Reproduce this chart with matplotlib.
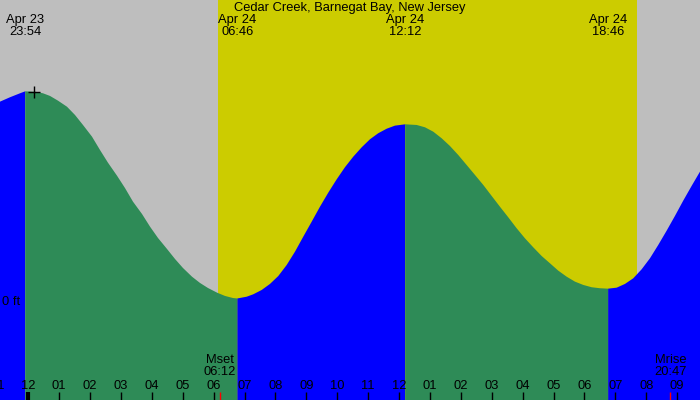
import matplotlib
matplotlib.use("Agg")
import matplotlib.pyplot as plt
import matplotlib.transforms as mtransforms

plt.rcParams['font.family'] = ['Liberation Sans', 'DejaVu Sans']

title = "Cedar Creek, Barnegat Bay, New Jersey"

# hours relative to midnight Apr 24 ; heights in ft
curve_hours = [-0.916, -0.592, -0.269, -0.10, 0.282, 0.476, 0.702, 0.961, 1.252, 1.511,
               1.770, 2.061, 2.320, 2.579, 2.871, 3.129, 3.388, 3.680, 3.939, 4.197,
               4.489, 4.748, 5.006, 5.298, 5.557, 5.816, 6.107, 6.366, 6.625, 6.767,
               7.068, 7.282, 7.553, 7.822, 8.091, 8.362, 8.631, 8.900, 9.172, 9.440,
               9.709, 9.981, 10.249, 10.518, 10.790, 11.058, 11.327, 11.599, 11.867, 12.20,
               12.570, 12.838, 13.107, 13.379, 13.647, 13.916, 14.188, 14.456, 14.725, 14.997,
               15.265, 15.534, 15.806, 16.074, 16.343, 16.615, 16.883, 17.152, 17.424, 17.693,
               17.961, 18.233, 18.501, 18.767,
               19.042, 19.311, 19.579, 19.851, 20.120, 20.388, 20.660, 20.929, 21.197, 21.469,
               21.74]
curve_ft = [1.821, 1.861, 1.897, 1.915, 1.909, 1.897, 1.873, 1.830, 1.775, 1.700,
            1.609, 1.503, 1.382, 1.266, 1.148, 1.036, 0.912, 0.800, 0.685, 0.582,
            0.482, 0.391, 0.309, 0.230, 0.173, 0.127, 0.085, 0.055, 0.036, 0.032,
            0.048, 0.070, 0.109, 0.164, 0.236, 0.336, 0.457, 0.594, 0.730, 0.866,
            0.994, 1.115, 1.225, 1.321, 1.406, 1.479, 1.534, 1.575, 1.603, 1.615,
            1.609, 1.588, 1.548, 1.488, 1.418, 1.336, 1.245, 1.155, 1.064, 0.964,
            0.866, 0.770, 0.670, 0.579, 0.497, 0.418, 0.352, 0.285, 0.230, 0.185,
            0.155, 0.134, 0.125, 0.121,
            0.130, 0.164, 0.215, 0.297, 0.397, 0.518, 0.648, 0.782, 0.921, 1.055,
            1.185]

# tide extremes
extreme_hours = [-0.10, 6.767, 12.20, 18.767]
extreme_dates = ["Apr 23", "Apr 24", "Apr 24", "Apr 24"]
extreme_times = ["23:54", "06:46", "12:12", "18:46"]

sunrise_h = 6.14
sunset_h = 19.70

moon_hours = [6.20, 20.78]
moon_labels = ["Mset\n06:12", "Mrise\n20:47"]

tick_hours = list(range(-1, 22))
tick_labels = ["11", "12", "01", "02", "03", "04", "05", "06", "07", "08", "09", "10",
               "11", "12", "01", "02", "03", "04", "05", "06", "07", "08", "09"]

marker_h, marker_ft = 0.18, 1.91

GRAY = "#bebebe"
YELLOW = "#cccc00"
GREEN = "#2e8b57"
BLUE = "#0000ff"

FS = 9.3

fig = plt.figure(figsize=(7, 4), dpi=100)
ax = fig.add_axes([0, 0, 1, 1])
ax.set_xlim(-0.916, 21.74)
ax.set_ylim(-0.891, 2.745)
ax.set_facecolor(GRAY)
ax.axis('off')
fig.patch.set_facecolor(GRAY)

ax.axvspan(sunrise_h, sunset_h, color=YELLOW, zorder=1, lw=0)

# split curve into rising / falling segments at the extremes
idx = [0] + [curve_hours.index(h) for h in extreme_hours] + [len(curve_hours) - 1]
idx = sorted(set(idx))
for k in range(len(idx) - 1):
    a, b = idx[k], idx[k + 1]
    xs = curve_hours[a:b + 1]
    ys = curve_ft[a:b + 1]
    rising = ys[-1] > ys[0]
    ax.fill_between(xs, -5, ys, color=BLUE if rising else GREEN, lw=0, zorder=2)

trans = mtransforms.blended_transform_factory(ax.transData, ax.transAxes)

# hour ticks
for h, lab in zip(tick_hours, tick_labels):
    lw = 3 if h == 0 else 1
    ax.plot([h, h], [0, 0.02], color='black', lw=lw, transform=trans, zorder=4,
            solid_capstyle='butt')
    ax.text(h, 0.035, lab, transform=trans, ha='center', va='center', fontsize=FS, zorder=5)

for h, lab in zip(moon_hours, moon_labels):
    ax.plot([h, h], [0, 0.02], color='red', lw=1, transform=trans, zorder=4,
            solid_capstyle='butt')
    ax.text(h, 0.085, lab, transform=trans, ha='center', va='center', fontsize=FS,
            linespacing=0.95, zorder=5)

for h, d, t in zip(extreme_hours, extreme_dates, extreme_times):
    ax.text(h, 1 - 26 / 400, d + "\n" + t, transform=trans, ha='center', va='center',
            fontsize=FS, linespacing=0.95, zorder=5)

ax.text(0.5, 1 - 8 / 400, title, transform=ax.transAxes, ha='center', va='center',
        fontsize=FS, zorder=5)

ax.text(2 / 700, 0, "0 ft", transform=mtransforms.blended_transform_factory(ax.transAxes, ax.transData),
        ha='left', va='center', fontsize=FS, zorder=5)

ax.plot([marker_h], [marker_ft], marker='+', color='black', markersize=9, mew=1, zorder=6)

fig.savefig("out.png", dpi=100, facecolor=GRAY)
